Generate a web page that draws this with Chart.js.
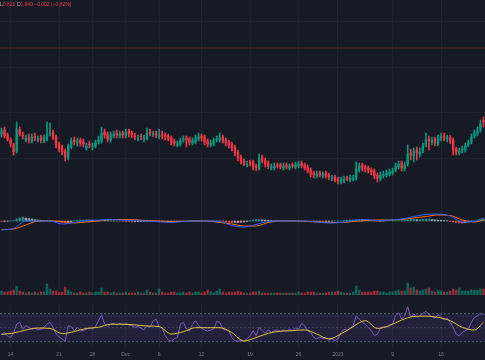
<!DOCTYPE html>
<html>
<head>
<meta charset="utf-8">
<script src="https://cdn.jsdelivr.net/npm/chart.js@4.4.1/dist/chart.umd.min.js"></script>
<style>
html,body{margin:0;padding:0;background:#161a25;width:485px;height:360px;overflow:hidden;}
canvas{position:absolute;left:0;}
#legend{position:absolute;left:0px;top:1px;font:5px 'Liberation Sans',sans-serif;color:#f23645;white-space:nowrap;}
#legend .k{color:#b2b5be;}
</style>
</head>
<body>
<canvas id="cMain" width="485" height="200" style="top:0px;width:485px;height:200px"></canvas>
<canvas id="cMacd" width="485" height="38" style="top:200px;width:485px;height:38px"></canvas>
<canvas id="cVol" width="485" height="57" style="top:238px;width:485px;height:57px"></canvas>
<canvas id="cRsi" width="485" height="56" style="top:304px;width:485px;height:56px"></canvas>
<div id="legend"><span class="k">L</span>0.821 <span class="k">C</span>0.840 −0.002 (−0.82%)</div>
<script>
// ---- data (price in thousandths) ----
const opens = [
826,830,825,820,815,809,830,825,820,823,
819,824,820,822,819,821,826,828,823,816,
812,809,802,813,820,817,820,818,812,816,
813,814,818,819,828,826,820,824,827,824,
827,824,829,827,824,821,824,821,821,828,
825,827,823,826,825,824,822,819,815,816,
820,822,821,817,818,821,824,823,819,815,
816,820,820,823,820,818,816,813,808,803,
799,795,798,798,794,791,803,800,797,792,
792,795,795,792,795,792,795,793,794,797,
795,793,790,787,784,787,784,787,785,781,
783,781,778,779,782,780,781,782,790,795,
793,792,790,789,785,781,784,785,786,787,
790,793,797,791,796,807,804,810,806,809,
815,821,818,821,816,821,824,821,823,820,
811,807,810,810,815,818,824,826,830,840];
const highs = [
832,833,827,822,817,838,833,828,825,826,
826,827,824,825,825,838,837,830,825,818,
815,811,816,822,823,822,822,821,817,819,
817,820,824,833,831,828,828,829,830,829,
829,831,831,829,827,825,826,825,832,831,
829,829,831,829,827,826,824,821,819,822,
824,824,823,822,825,827,826,825,821,820,
822,824,827,825,822,820,818,815,810,805,
801,799,800,800,796,806,805,802,799,796,
797,797,797,797,797,796,797,798,799,799,
797,795,792,789,789,789,788,789,787,785,
785,783,783,784,784,785,785,798,797,797,
795,794,792,791,787,788,789,790,791,792,
797,799,799,798,815,811,812,813,812,817,
827,824,823,823,825,827,827,825,825,822,
813,812,814,817,820,826,830,833,840,843];
const lows = [
823,822,819,813,805,807,824,821,818,817,
817,819,818,817,817,819,824,820,812,808,
805,799,800,811,815,814,814,813,810,812,
810,812,816,817,822,818,818,822,822,822,
822,822,823,822,820,819,820,818,820,824,
823,822,821,821,820,819,815,814,813,814,
818,813,815,815,816,819,819,815,813,813,
814,818,818,817,814,812,809,804,799,796,
794,793,794,790,789,790,797,793,791,790,
790,792,791,790,791,790,792,791,792,792,
790,787,783,782,782,783,782,782,780,779,
778,776,776,777,779,778,779,780,788,789,
788,787,785,781,778,779,782,783,784,785,
788,791,789,789,794,800,798,800,803,807,
813,810,815,814,814,819,819,818,816,805,
805,805,807,808,813,816,822,824,828,833];
const closes = [
829,824,821,816,808,831,826,824,822,820,
823,822,821,820,822,825,827,822,815,811,
808,803,814,819,818,819,817,816,814,815,
814,817,820,827,825,821,825,826,825,826,
825,828,826,825,823,822,823,822,827,827,
826,825,825,824,823,821,818,817,816,819,
821,820,818,819,822,823,822,818,816,817,
819,821,822,819,817,815,812,807,802,798,
797,796,797,793,792,802,799,796,794,793,
794,794,793,794,793,794,794,795,796,794,
792,789,786,785,786,785,786,784,783,782,
780,779,780,781,781,782,782,791,794,792,
791,789,788,784,782,785,786,787,788,789,
794,796,792,795,806,805,809,807,808,814,
820,819,820,817,822,823,822,822,819,810,
808,809,811,814,817,823,827,829,836,838];
const volumes = [
4,3,3,4,5,9,4,3,2,3,
2,3,2,3,3,11,6,4,4,3,
3,8,5,3,2,2,3,2,2,3,
2,3,3,7,3,3,2,3,2,2,
2,3,2,2,2,3,2,2,5,3,
2,2,6,3,2,2,3,3,2,2,
3,2,3,2,3,3,2,3,5,3,
2,4,6,3,2,3,3,3,4,3,
2,2,2,3,3,4,2,2,2,2,
2,2,2,2,2,2,2,2,3,2,
2,3,3,3,2,2,2,2,3,3,
3,4,3,2,2,2,3,9,5,3,
3,3,3,4,4,3,3,2,3,3,
4,5,4,4,12,7,8,5,4,5,
6,7,4,3,5,4,3,3,4,6,
5,7,4,4,4,5,5,5,6,6];
const macdHist = [
-0.5,-0.5,-0.3,0.3,0.5,2,3,4,3,2.5,
2,1.5,1,0.5,0.3,0.5,0.3,0,-0.5,-1,
-1.5,-2,-1.5,-1,0.5,0.8,1,1,1.2,1,
0.8,0.8,0.6,1,0.8,0.5,0.3,0.2,0,-0.2,
-0.3,-0.5,-0.6,-0.8,-0.8,-0.6,-0.5,-0.4,-0.3,-0.5,
-0.6,-0.7,-0.8,-0.8,-1,-1,-0.9,-0.7,-0.5,-0.3,
-0.2,0.2,0.3,0.3,0.2,0.1,0,-0.2,-0.3,-0.5,
-0.5,-0.3,0.3,-0.5,-1,-1.2,-1.5,-1.5,-1.5,-1.3,
-1,-0.5,0.5,1,1.5,1.5,1.3,1,0.8,0.5,
0.3,0.2,0.1,0,0.2,0.3,0.2,0,-0.2,-0.3,
-0.5,-0.6,-0.8,-0.7,-0.5,-0.5,-0.6,-0.5,-0.4,-0.2,
0,0.2,0.3,0.5,0.8,1,1,1.2,1.3,1,
0.8,0.5,0.2,-0.3,-0.5,-0.4,-0.2,0,0.2,0.3,
0.3,0.5,0.6,0.8,1.2,1.5,1.5,1.4,1.5,1.8,
2,2,1.5,1.2,1,0.8,0.5,0.3,-0.3,-1,
-1.5,-2,-2.2,-1.8,-1,-0.5,0.3,1,1.5,2];
const rsi = [
41,43,38.5,36,43,55,57.6,48,53,50.5,
48,49.5,46.7,48,50.5,55,57.6,50.5,41,37,
34,30.5,53,51.6,45.7,50.5,46.7,45.7,48,49.5,
48,51.6,60,68.6,55,51.6,55,56,54,56,
53.8,56,53.8,53,50.5,51.6,49.5,46.7,53,50.5,
60,62.4,51.6,49.5,38.5,32.4,30.5,34,36,55,
57.6,48,45.7,55,60,53,49.5,46.7,45,46.7,
48,59,57.6,48,46.7,45.7,36,31.4,30.5,32.4,
30.5,34,38.5,45.7,38.5,50.5,45.7,42,46.7,43.3,
45.7,46.7,44.3,46.7,45,48,45.7,49.5,48,56,
53,45.7,43.3,36,34,37,34,36,32.4,34,
31.4,34,43.3,48,45.7,49.5,53,67,62.4,57.6,
55,50.5,45.7,38.5,41,49.5,51.6,50.5,54,55,
67,71.4,62.4,67,80,64.8,69.5,64.8,67,70.5,
73.3,68.6,65.7,63.8,68.6,64.8,61,63.8,57.6,50.5,
41,38.5,43.3,45.7,48,57.6,64.8,67,70.5,68.6];
// smoothed indicator lines, sampled at these candle positions
const sampleIdx = [0,4,8,12,16,20,24,28,32,36,40,44,48,52,56,60,64,68,72,76,80,84,88,92,96,100,104,108,112,116,120,124,128,132,136,140,144,148,152,156,159];
const macdLine = [-9,-7.5,0,0,0,-3,-1.5,0.5,0.8,1.5, 0.8,0.3,0,-0.8,-1.5,-0.5,0,0,-0.5,-4.5, -6,-3.5,-0.5,0,0,0,-1,-2,-1.5,0.5, 1.5,0.5,1,2,4.5,6.5,7,5,-1,-0.5, 3];
const signalLine = [-8.5,-8,-4,-0.2,0,-0.5,-2,-1,0,1.5, 1.5,1.2,0.5,0,-0.5,-0.3,0,0,-1.5,-3, -5,-5,-1.5,0,0,-0.3,-1,-1.5,-1.5,-0.5, 0.5,1,1,1.5,3,4.5,6,5.5,1,-1, 1];
const rsiMa = [40.5,42.4,46.7,49.5,49,41.5,44.5,49,50.5,55, 55,54,52.4,51.6,41,44.3,50,50,50,43, 31,36,41.9,45,45.7,47,41,34,41,51.6, 60,49,53,61,66,66.5,64.8,60,50.5,46.7, 57.6];
const rsiLevels = [70, 50, 30];
const priceGrid = [938, 893, 847, 802];
const alertLevel = 912;
const tickIdx = [3,19,30,41,52,66,82,98,111,129,145];
const tickLabels = ['14','21','28','Dec','6','12','19','26','2023','9','16'];

// ---- styling ----
const N = closes.length;
const UP = '#089981', DOWN = '#f23645';
const GRID = '#1e2230';
const isUp = i => closes[i] >= opens[i];
const idx = closes.map((_, i) => i);
const pts = (xs, ys) => xs.map((x, k) => ({x: x, y: ys[k]}));
const hline = v => [{x: -0.5, y: v}, {x: N - 0.5, y: v}];

function paneOptions(ymin, ymax, gridVals, showX, sepLine) {
  return {
    responsive: false, animation: false, devicePixelRatio: 1,
    layout: {padding: 0},
    plugins: {legend: {display: false}, tooltip: {enabled: false}},
    scales: {
      x: {
        type: 'linear', min: -0.5, max: N - 0.5, offset: false,
        grid: {color: GRID, drawTicks: false, offset: false, lineWidth: 1},
        border: {display: !!sepLine, color: '#2a2e39'},
        afterBuildTicks: s => { s.ticks = tickIdx.map(v => ({value: v})); },
        ticks: {
          display: showX, autoSkip: false, maxRotation: 0, padding: 4,
          color: '#787b86', font: {size: 5, family: "'Liberation Sans', sans-serif"},
          callback: v => tickLabels[tickIdx.indexOf(v)]
        },
        afterFit: s => { s.height = showX ? 12 : 0; }
      },
      y: {
        min: ymin, max: ymax,
        grid: {display: !!gridVals, color: GRID, drawTicks: false},
        border: {display: false},
        ticks: {display: false},
        afterBuildTicks: s => { if (gridVals) s.ticks = gridVals.map(v => ({value: v})); },
        afterFit: s => { s.width = 0; }
      }
    }
  };
}

// ---- price pane ----
new Chart(document.getElementById('cMain'), {
  type: 'bar',
  data: {datasets: [
    {type: 'line', data: hline(alertLevel), borderColor: '#5a2631', borderWidth: 1, pointRadius: 0, order: 5},
    {data: idx.map(i => ({x: i, y: [opens[i], closes[i]]})), backgroundColor: c => isUp(c.dataIndex) ? UP : DOWN,
     barThickness: 1.7, minBarLength: 1, grouped: false, order: 1},
    {data: idx.map(i => ({x: i, y: [lows[i], highs[i]]})), backgroundColor: c => isUp(c.dataIndex) ? UP : DOWN,
     barThickness: 1, grouped: false, order: 2}
  ]},
  options: paneOptions(760, 960, priceGrid, false, true)
});

// ---- MACD pane ----
const histColor = i => {
  const v = macdHist[i], p = i > 0 ? macdHist[i - 1] : 0;
  if (v >= 0) return v >= p ? 'rgba(38,166,154,0.8)' : 'rgba(178,223,219,0.7)';
  return v < p ? 'rgba(255,82,82,0.8)' : 'rgba(255,205,210,0.7)';
};
new Chart(document.getElementById('cMacd'), {
  type: 'bar',
  data: {datasets: [
    {type: 'line', data: pts(sampleIdx, macdLine), borderColor: '#2962ff', borderWidth: 1, pointRadius: 0, cubicInterpolationMode: 'monotone', order: 1},
    {type: 'line', data: pts(sampleIdx, signalLine), borderColor: '#ff6d00', borderWidth: 1, pointRadius: 0, cubicInterpolationMode: 'monotone', order: 2},
    {data: pts(idx, macdHist), backgroundColor: c => histColor(c.dataIndex), barThickness: 1.7, grouped: false, order: 3}
  ]},
  options: paneOptions(-17, 21, null, false, true)
});

// ---- volume pane ----
new Chart(document.getElementById('cVol'), {
  type: 'bar',
  data: {datasets: [
    {data: pts(idx, volumes), backgroundColor: c => isUp(c.dataIndex) ? 'rgba(8,153,129,0.6)' : 'rgba(242,54,69,0.6)',
     barThickness: 1.7, grouped: false}
  ]},
  options: paneOptions(0, 57, null, false, false)
});

// ---- RSI pane ----
new Chart(document.getElementById('cRsi'), {
  type: 'line',
  data: {datasets: [
    {data: hline(rsiLevels[0]), borderColor: '#5d5f6b', borderDash: [2, 2], borderWidth: 1, pointRadius: 0,
     fill: {target: 2}, backgroundColor: 'rgba(126,87,194,0.13)', order: 5},
    {data: hline(rsiLevels[1]), borderColor: 'rgba(93,95,107,0.6)', borderDash: [2, 2], borderWidth: 1, pointRadius: 0, order: 5},
    {data: hline(rsiLevels[2]), borderColor: '#5d5f6b', borderDash: [2, 2], borderWidth: 1, pointRadius: 0, order: 5},
    {data: pts(sampleIdx, rsiMa), borderColor: '#e2bf3c', borderWidth: 1, pointRadius: 0, cubicInterpolationMode: 'monotone', order: 1},
    {data: pts(idx, rsi), borderColor: '#7e57c2', borderWidth: 1, pointRadius: 0, tension: 0, order: 2}
  ]},
  options: paneOptions(21, 83.857, null, true, false)
});
</script>
</body>
</html>
